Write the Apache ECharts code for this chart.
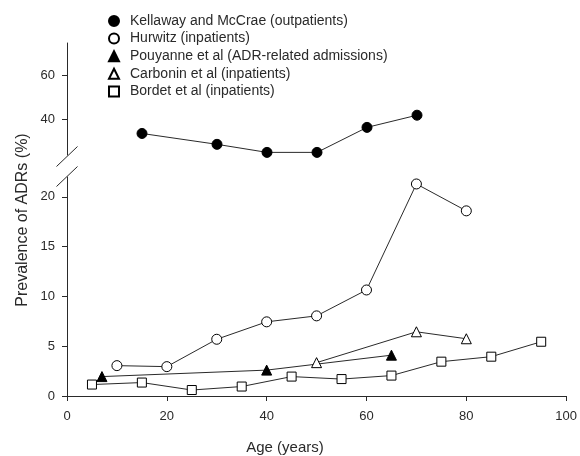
<!DOCTYPE html>
<html>
<head>
<meta charset="utf-8">
<script src="https://cdn.jsdelivr.net/npm/echarts@6/dist/echarts.min.js"></script>
<style>
html,body{margin:0;padding:0;background:#fff;}
#chart{width:580px;height:456px;}
</style>
</head>
<body>
<div id="chart"></div>
<script>
// ---- Data ----
var seriesNames = [
  'Kellaway and McCrae (outpatients)',
  'Hurwitz (inpatients)',
  'Pouyanne et al (ADR-related admissions)',
  'Carbonin et al (inpatients)',
  'Bordet et al (inpatients)'
];
var kellawayAge = [15, 30, 40, 50, 60, 70];
var kellawayVal = [33.4, 28.4, 24.7, 24.7, 36.2, 41.8];
var hurwitzAge = [10, 20, 30, 40, 50, 60, 70, 80];
var hurwitzVal = [3.05, 2.95, 5.7, 7.45, 8.05, 10.65, 21.3, 18.6];
var pouyanneAge = [7, 40, 65];
var pouyanneVal = [1.95, 2.6, 4.1];
var carboninAge = [50, 70, 80];
var carboninVal = [3.35, 6.45, 5.75];
var bordetAge = [5, 15, 25, 35, 45, 55, 65, 75, 85, 95];
var bordetVal = [1.15, 1.35, 0.6, 0.95, 1.95, 1.7, 2.05, 3.45, 3.95, 5.45];
var xTicks = [0, 20, 40, 60, 80, 100];
var upperYTicks = [40, 60];
var lowerYTicks = [0, 5, 10, 15, 20];

function pairs(xs, ys) { return xs.map(function (x, i) { return [x, ys[i]]; }); }

var FONT = 'Liberation Sans, Arial, sans-serif';
var TXT = '#2a2a2a';
var LINE = '#2a2a2a';

function yAxisBase(gridIndex, min, max, ticks) {
  return {
    type: 'value', gridIndex: gridIndex, min: min, max: max,
    splitLine: { show: false },
    axisLine: { show: true, lineStyle: { color: LINE, width: 1 } },
    axisTick: { show: true, inside: false, length: 5, customValues: ticks, lineStyle: { color: LINE } },
    axisLabel: { customValues: ticks, margin: 12, fontSize: 13, color: TXT, fontFamily: FONT }
  };
}

function lineSeries(name, data, symbol, filled, xi, yi) {
  return {
    name: name, type: 'line', xAxisIndex: xi, yAxisIndex: yi,
    data: data, symbol: symbol, symbolSize: symbol === 'rect' ? 9 : 10,
    showAllSymbol: true, clip: false,
    lineStyle: { color: LINE, width: 1 },
    itemStyle: { color: filled ? '#000' : '#fff', borderColor: '#000', borderWidth: 1 },
    emphasis: { disabled: true },
    z: 3
  };
}

var chart = echarts.init(document.getElementById('chart'), null, { renderer: 'canvas' });
chart.setOption({
  animation: false,
  backgroundColor: '#fff',
  textStyle: { fontFamily: FONT },
  grid: [
    { left: 67, right: 13, top: 43, height: 112 },
    { left: 67, right: 13, top: 177, bottom: 60 }
  ],
  xAxis: [
    { type: 'value', gridIndex: 0, min: 0, max: 100, show: false },
    {
      type: 'value', gridIndex: 1, min: 0, max: 100, interval: 20,
      splitLine: { show: false },
      axisLine: { show: true, onZero: false, lineStyle: { color: LINE, width: 1 } },
      axisTick: { show: true, inside: false, length: 5, lineStyle: { color: LINE } },
      axisLabel: { margin: 14, fontSize: 13, color: TXT, fontFamily: FONT, customValues: xTicks }
    }
  ],
  yAxis: [
    yAxisBase(0, 23.5, 75, upperYTicks),
    yAxisBase(1, 0, 22, lowerYTicks)
  ],
  legend: {
    orient: 'vertical', left: 103, top: 9,
    itemWidth: 10, itemHeight: 10, itemGap: 3.6,
    selectedMode: false,
    textStyle: { fontSize: 14, color: TXT, fontFamily: FONT, lineHeight: 12.5, padding: [0, 0, 0, 6] },
    data: [
      { name: seriesNames[0], icon: 'circle' },
      { name: seriesNames[1], icon: 'circle' },
      { name: seriesNames[2], icon: 'triangle' },
      { name: seriesNames[3], icon: 'triangle' },
      { name: seriesNames[4], icon: 'rect' }
    ]
  },
  series: [
    lineSeries(seriesNames[0], pairs(kellawayAge, kellawayVal), 'circle', true, 0, 0),
    lineSeries(seriesNames[1], pairs(hurwitzAge, hurwitzVal), 'circle', false, 1, 1),
    lineSeries(seriesNames[2], pairs(pouyanneAge, pouyanneVal), 'triangle', true, 1, 1),
    lineSeries(seriesNames[3], pairs(carboninAge, carboninVal), 'triangle', false, 1, 1),
    lineSeries(seriesNames[4], pairs(bordetAge, bordetVal), 'rect', false, 1, 1)
  ],
  graphic: [
    { type: 'line', shape: { x1: 56.5, y1: 166.5, x2: 77.5, y2: 146.5 }, style: { stroke: LINE, lineWidth: 1 } },
    { type: 'line', shape: { x1: 56.5, y1: 186.5, x2: 77.5, y2: 166.5 }, style: { stroke: LINE, lineWidth: 1 } },
    { type: 'text', x: 23, y: 220, rotation: Math.PI / 2,
      style: { x: 0, y: 0, text: 'Prevalence of ADRs (%)', fill: TXT, font: '16px ' + FONT, align: 'center', verticalAlign: 'middle' } },
    { type: 'text', style: { x: 285, y: 448, text: 'Age (years)', fill: TXT, font: '15px ' + FONT, align: 'center', verticalAlign: 'middle' } }
  ]
});
</script>
</body>
</html>
